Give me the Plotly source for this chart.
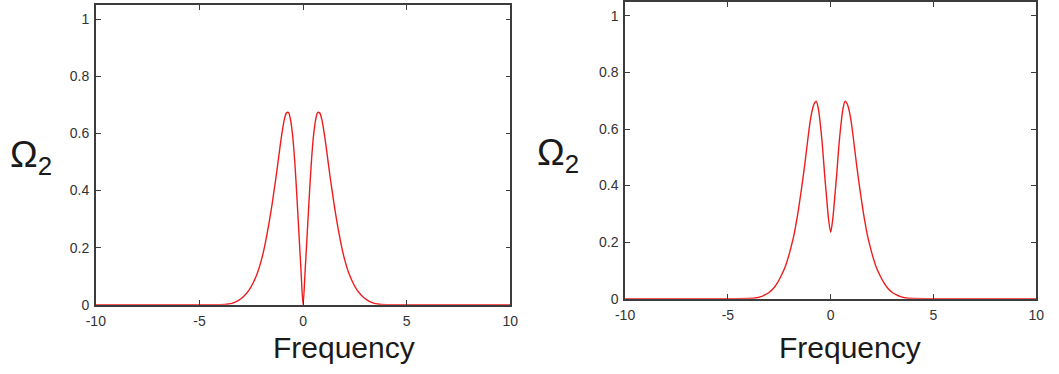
import plotly.graph_objects as go

# Frequency samples (symmetric about 0) and the two Omega_2 spectra
freq_half = [0.0, 0.1, 0.2, 0.3, 0.4, 0.5, 0.6, 0.7, 0.8, 0.9, 1.0, 1.1, 1.2, 1.3,
             1.4, 1.5, 1.6, 1.7, 1.8, 1.9, 2.0, 2.2, 2.4, 2.6, 2.8, 3.0, 3.2, 3.4,
             3.6, 4.0, 5.0, 10.0]
omega_a_half = [0.0, 0.12, 0.25, 0.38, 0.50, 0.59, 0.645, 0.673, 0.672, 0.65, 0.61,
                0.56, 0.505, 0.45, 0.40, 0.35, 0.305, 0.263, 0.225, 0.19, 0.16,
                0.112, 0.078, 0.052, 0.034, 0.021, 0.012, 0.006, 0.003, 0.0005, 0.0, 0.0]
omega_b_half = [0.235, 0.28, 0.36, 0.445, 0.54, 0.615, 0.672, 0.698, 0.69, 0.665,
                0.625, 0.57, 0.51, 0.452, 0.398, 0.348, 0.30, 0.258, 0.22, 0.19,
                0.162, 0.115, 0.082, 0.055, 0.035, 0.022, 0.013, 0.007, 0.003,
                0.0005, 0.0, 0.0]

x_ticks = [-10, -5, 0, 5, 10]
x_tick_text = ["-10", "-5", "0", "5", "10"]
y_ticks = [0, 0.2, 0.4, 0.6, 0.8, 1]
y_tick_text = ["0", "0.2", "0.4", "0.6", "0.8", "1"]


def mirror_full(xh, yh):
    xs = [-v for v in reversed(xh[1:])] + list(xh)
    ys = list(reversed(yh[1:])) + list(yh)
    return xs, ys


xa, ya = mirror_full(freq_half, omega_a_half)
xb, yb = mirror_full(freq_half, omega_b_half)

W, H = 1059, 374
line_col = "#ee1c1c"
axis_col = "#3c3c3c"
tick_font = dict(family="Arial", size=14, color="#333333")

fig = go.Figure()
fig.add_trace(go.Scatter(x=xa, y=ya, mode="lines", xaxis="x", yaxis="y",
                         line=dict(color=line_col, width=1.4, shape="spline", smoothing=0.8),
                         showlegend=False))
fig.add_trace(go.Scatter(x=xb, y=yb, mode="lines", xaxis="x2", yaxis="y2",
                         line=dict(color=line_col, width=1.4, shape="spline", smoothing=0.8),
                         showlegend=False))


def xaxis_style(dom, anchor):
    return dict(domain=dom, anchor=anchor, range=[-10, 10], tickmode="array",
                tickvals=x_ticks, ticktext=x_tick_text, ticks="inside", ticklen=5,
                tickcolor=axis_col, showline=True, linecolor=axis_col, linewidth=1.6,
                mirror="ticks", showgrid=False, zeroline=False, tickfont=tick_font,
                fixedrange=True, ticklabelstandoff=3)


def yaxis_style(dom, anchor):
    return dict(domain=dom, anchor=anchor, range=[0, 1.05], tickmode="array",
                tickvals=y_ticks, ticktext=y_tick_text, ticks="inside", ticklen=5,
                tickcolor=axis_col, showline=True, linecolor=axis_col, linewidth=1.6,
                mirror="ticks", showgrid=False, zeroline=False, tickfont=tick_font,
                fixedrange=True, ticklabelstandoff=2)


fig.update_layout(
    width=W, height=H,
    margin=dict(l=0, r=0, t=0, b=0),
    font=dict(family="Arial", size=14, color="#333333"),
    paper_bgcolor="white", plot_bgcolor="white",
    xaxis=xaxis_style([87.3 / W, 509 / W], "y"),
    yaxis=yaxis_style([(H - 311.3) / H, (H - 4) / H], "x"),
    xaxis2=xaxis_style([625.7 / W, 1044 / W], "y2"),
    yaxis2=yaxis_style([(H - 305) / H, (H - 0.8) / H], "x2"),
)

title_font = dict(family="Arial", size=30, color="#1a1a1a")
omega_font = dict(family="Arial", size=37, color="#1a1a1a")

for cx in (340, 855):
    fig.add_annotation(text="Frequency", x=cx / W, y=(H - 355) / H, xref="paper",
                       yref="paper", xanchor="center", yanchor="middle",
                       showarrow=False, font=title_font)

for lx, ly in ((-2, 160), (534, 158)):
    fig.add_annotation(text="Ω<sub>2</sub>", x=lx / W, y=(H - ly) / H, xref="paper",
                       yref="paper", xanchor="left", yanchor="middle",
                       showarrow=False, font=omega_font)

fig.write_html("out.html")
